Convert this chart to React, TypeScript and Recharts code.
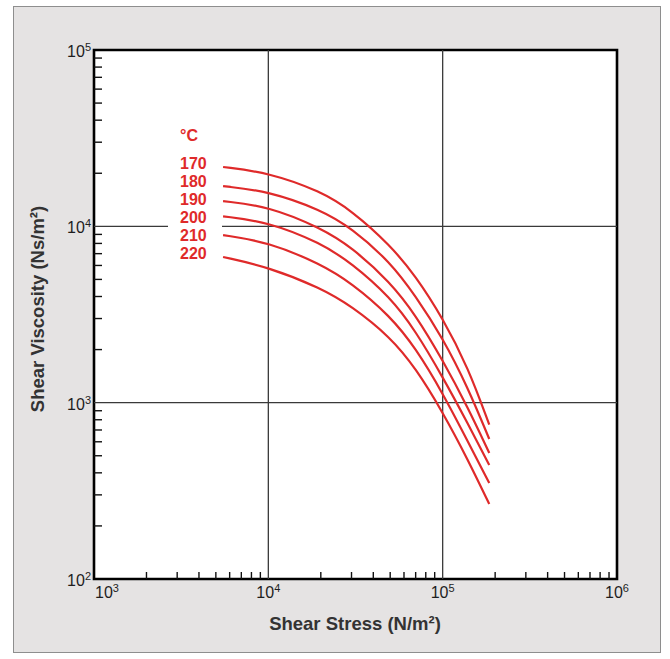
import React from "react";
import {
  LineChart,
  Line,
  XAxis,
  YAxis,
  CartesianGrid,
  ReferenceLine,
  ReferenceArea,
} from "recharts";

// shear stress (N/m2) where the curves were read
const stress = [5500, 10000, 20000, 30000, 50000, 70000, 100000, 140000, 185000];

// shear viscosity (Ns/m2) per melt temperature
const visc170 = [21700, 20200, 15800, 12300, 7830, 5220, 3020, 1580, 750];
const visc180 = [16900, 15850, 12400, 9780, 6280, 4020, 2330, 1210, 622];
const visc190 = [13900, 13000, 9780, 7630, 4830, 3140, 1745, 932, 518];
const visc200 = [11400, 10600, 8040, 6190, 3970, 2550, 1400, 756, 443];
const visc210 = [8920, 8150, 6110, 4770, 3100, 2040, 1135, 598, 350];
const visc220 = [6700, 5880, 4470, 3530, 2360, 1570, 885, 472, 266];

const temps = ["170", "180", "190", "200", "210", "220"];

const xMajor = [1e3, 1e4, 1e5, 1e6];
const yMajor = [1e2, 1e3, 1e4, 1e5];
const minorSteps = [2, 3, 4, 5, 6, 7, 8, 9];
const xMinor = xMajor.slice(0, 3).flatMap((d) => minorSteps.map((m) => d * m));
const yMinor = yMajor.slice(0, 3).flatMap((d) => minorSteps.map((m) => d * m));

const data = stress.map((x, i) => ({
  x,
  t170: visc170[i],
  t180: visc180[i],
  t190: visc190[i],
  t200: visc200[i],
  t210: visc210[i],
  t220: visc220[i],
}));

const RED = "#df2a2a";
const FONT = "'Liberation Sans', Arial, Helvetica, sans-serif";

const XTick = (props: any) => {
  const { x, y, payload } = props;
  const v = payload.value;
  if (!xMajor.includes(v)) {
    return <line x1={x} x2={x} y1={y} y2={y - 7} stroke="#111" strokeWidth={1.4} />;
  }
  const exp = Math.round(Math.log10(v));
  const first = exp === 3;
  return (
    <text
      x={first ? x + 1 : x}
      y={y + 19}
      textAnchor={first ? "start" : "middle"}
      fontFamily={FONT}
      fontSize={16}
      fill="#1e1e1e"
    >
      10
      <tspan dy={-6} fontSize={11}>
        {exp}
      </tspan>
    </text>
  );
};

const YTick = (props: any) => {
  const { x, y, payload } = props;
  const v = payload.value;
  if (!yMajor.includes(v)) {
    return <line x1={x} x2={x + 8} y1={y} y2={y} stroke="#111" strokeWidth={1.4} />;
  }
  const exp = Math.round(Math.log10(v));
  return (
    <text x={x - 3} y={y + 7} textAnchor="end" fontFamily={FONT} fontSize={16} fill="#1e1e1e">
      10
      <tspan dy={-6} fontSize={11}>
        {exp}
      </tspan>
    </text>
  );
};

export default function App() {
  return (
    <div style={{ position: "absolute", left: 0, top: 0, width: 670, height: 659, background: "#fff" }}>
      <div
        style={{
          position: "absolute",
          left: 13,
          top: 6,
          width: 646,
          height: 645,
          background: "#e5e3e3",
          border: "1px solid #8e8e8e",
        }}
      />
      <div style={{ position: "absolute", left: 0, top: 0 }}>
        <LineChart width={670} height={659} data={data} margin={{ top: 50, right: 53, bottom: 30, left: 34 }}>
          <CartesianGrid horizontal={false} vertical={false} fill="#fff" />
          <XAxis
            dataKey="x"
            type="number"
            scale="log"
            domain={[1e3, 1e6]}
            ticks={[...xMajor, ...xMinor]}
            interval={0}
            tickSize={0}
            tickMargin={0}
            tickLine={false}
            axisLine={false}
            tick={<XTick />}
            height={50}
            allowDataOverflow
          />
          <YAxis
            type="number"
            scale="log"
            domain={[1e2, 1e5]}
            ticks={[...yMajor, ...yMinor]}
            interval={0}
            tickSize={0}
            tickMargin={0}
            tickLine={false}
            axisLine={false}
            tick={<YTick />}
            width={60}
            allowDataOverflow
          />
          <ReferenceLine x={1e4} stroke="#3a3a3a" strokeWidth={1.3} />
          <ReferenceLine x={1e5} stroke="#3a3a3a" strokeWidth={1.3} />
          <ReferenceLine y={1e4} stroke="#3a3a3a" strokeWidth={1.3} />
          <ReferenceLine y={1e3} stroke="#3a3a3a" strokeWidth={1.3} />
          <ReferenceArea x1={1e3} x2={1e6} y1={1e2} y2={1e5} fill="none" stroke="#000" strokeWidth={2.6} />
          {temps.map((t) => (
            <Line
              key={t}
              dataKey={"t" + t}
              type="basis"
              stroke={RED}
              strokeWidth={2.2}
              dot={false}
              activeDot={false}
              isAnimationActive={false}
            />
          ))}
        </LineChart>
      </div>
      <svg
        width={670}
        height={659}
        style={{ position: "absolute", left: 0, top: 0, pointerEvents: "none" }}
      >
        <rect x={168} y={218} width={54} height={18} fill="#fff" />
        <text x={180} y={141} fontFamily={FONT} fontSize={16} fontWeight="bold" fill={RED}>
          °C
        </text>
        {temps.map((t, i) => (
          <text key={t} x={180} y={169 + i * 18} fontFamily={FONT} fontSize={16} fontWeight="bold" fill={RED}>
            {t}
          </text>
        ))}
        <text x={355} y={630} textAnchor="middle" fontFamily={FONT} fontSize={18.5} fontWeight="bold" fill="#333">
          Shear Stress (N/m²)
        </text>
        <text
          x={0}
          y={0}
          transform="translate(44,309) rotate(-90)"
          textAnchor="middle"
          fontFamily={FONT}
          fontSize={18.5}
          fontWeight="bold"
          fill="#333"
        >
          Shear Viscosity (Ns/m²)
        </text>
      </svg>
    </div>
  );
}
